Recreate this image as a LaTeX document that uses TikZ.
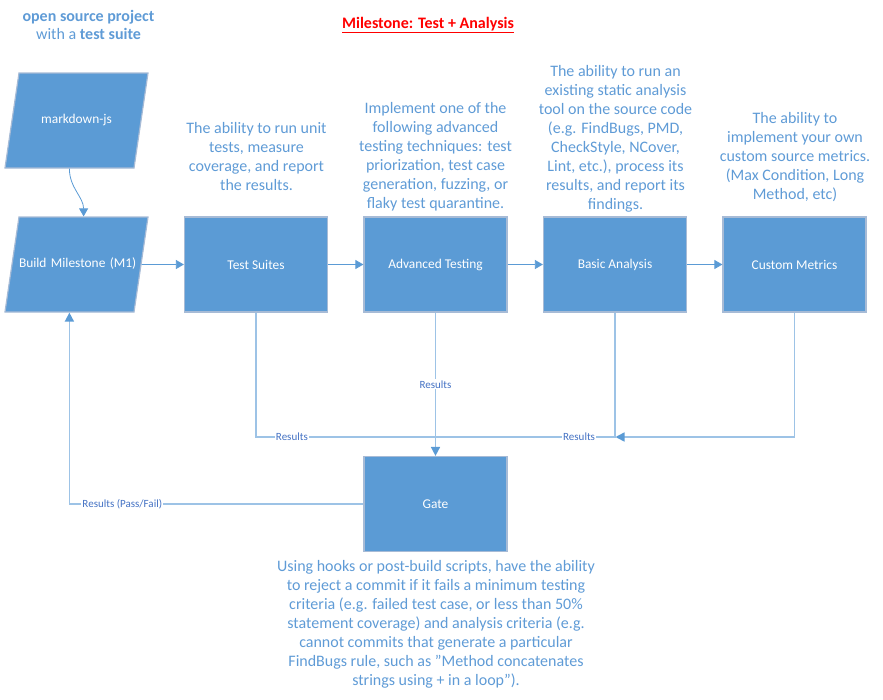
\documentclass[tikz,border=0pt]{standalone}
\usepackage{fontspec}
\setmainfont{Carlito}
\usetikzlibrary{shapes.geometric, positioning, arrows.meta}
\definecolor{boxfill}{HTML}{5B9BD5}
\definecolor{boxedge}{HTML}{A7BBD6}
\definecolor{flowline}{HTML}{5B9BD5}
\definecolor{resline}{HTML}{9DC3E6}
\definecolor{notecol}{HTML}{5F9BD6}
\definecolor{labelcol}{HTML}{4472C4}
\tikzset{node distance=179.5pt, % Centre to centre of the boxes in the main row
block/.style={ % Sets the properties for each process box
rectangle, fill=boxfill, draw=boxedge, line width=1.2pt,
minimum width=143pt, minimum height=95pt, inner sep=0pt,
text=white, font=\fontsize{13.4}{15}\selectfont},
io/.style={ % Input / output parallelograms, slant of 14pt
block, trapezium, trapezium left angle=81.6, trapezium right angle=98.4,
minimum width=0pt, minimum height=0pt, text width=115pt, align=center,
text height=8pt, text depth=3pt, inner xsep=0pt, inner ysep=42pt},
note/.style={ % Explanatory text above and below the boxes
align=center, text=notecol, inner sep=0pt,
font=\fontsize{16}{19}\selectfont},
head/.style={align=center, text=notecol, inner sep=0pt,
font=\fontsize{16}{18}\selectfont},
ttl/.style={text=red, inner sep=0pt, font=\fontsize{16}{18}\selectfont\bfseries},
flow/.style={ % Plain flow arrows
draw=flowline, line width=0.8pt, -{Triangle[length=8pt,width=9pt]}},
res/.style={ % Result lines
draw=resline, line width=1.6pt},
tip/.style={-{Triangle[length=9pt,width=9pt,color=flowline]}},
reslabel/.style={fill=white, text=labelcol, inner sep=1pt,
font=\fontsize{11}{12}\selectfont}}

\begin{document}
\begin{tikzpicture}[x=1pt,y=-1pt]
    \useasboundingbox (0,0) rectangle (883,699);

    \node[head] (src) at (88.5,25) {\textbf{open source project}\\with a \textbf{test suite}};
    \node[ttl] (mst) at (428,25) {\underline{Milestone: Test + Analysis}};

    \node[io] (bm) at (76.5,264.5) {\mbox{Build Milestone (M1)}};
    \node[io, above of=bm, node distance=144pt] (md) {markdown-js};
    \node[block, right of=bm] (ts) {Test Suites};
    \node[block, right of=ts] (at) {Advanced Testing};
    \node[block, right of=at] (ba) {Basic Analysis};
    \node[block, right of=ba] (cm) {Custom Metrics};
    \node[block, below of=at, node distance=239.5pt] (gt) {Gate};

    \coordinate (mid) at (435.5,437);
    \coordinate (bmid) at (615.5,437);

    \node[note] (tsnote) at (256.5,157) {The ability to run unit\\tests, measure\\coverage, and report\\the results.};
    \node[note] (atnote) at (435.5,157) {Implement one of the\\following advanced\\testing techniques: test\\priorization, test case\\generation, fuzzing, or\\flaky test quarantine.};
    \node[note] (banote) at (615.5,139) {The ability to run an\\existing static analysis\\tool on the source code\\(e.g. FindBugs, PMD,\\CheckStyle, NCover,\\Lint, etc.), process its\\results, and report its\\findings.};
    \node[note] (cmnote) at (795,157) {The ability to\\implement your own\\custom source metrics.\\(Max Condition, Long\\Method, etc)};
    \node[note] (gtnote) at (436,624.5) {Using hooks or post-build scripts, have the ability\\to reject a commit if it fails a minimum testing\\criteria (e.g. failed test case, or less than 50\%\\statement coverage) and analysis criteria (e.g.\\cannot commits that generate a particular\\FindBugs rule, such as "Method concatenates\\strings using + in a loop").};

    \draw[flow] (md.bottom side) to[out=-90, in=90] (bm.top side);
    \draw[flow] (bm) -- (ts);
    \draw[flow] (ts) -- (at);
    \draw[flow] (at) -- (ba);
    \draw[flow] (ba) -- (cm);

    \draw[res] (ts.south) |- node[reslabel, pos=0.6] {Results} (mid);
    \draw[res] (ba.south) |- node[reslabel, pos=0.6] {Results} (mid);
    \draw[res, tip] (cm.south) |- (bmid);
    \draw[res, tip] (at.south) -- node[reslabel] {Results} (gt.north);
    \draw[res, tip] (gt.west) -| node[reslabel, pos=0.41] {Results (Pass/Fail)} (bm.bottom side);

\end{tikzpicture}
\end{document}
